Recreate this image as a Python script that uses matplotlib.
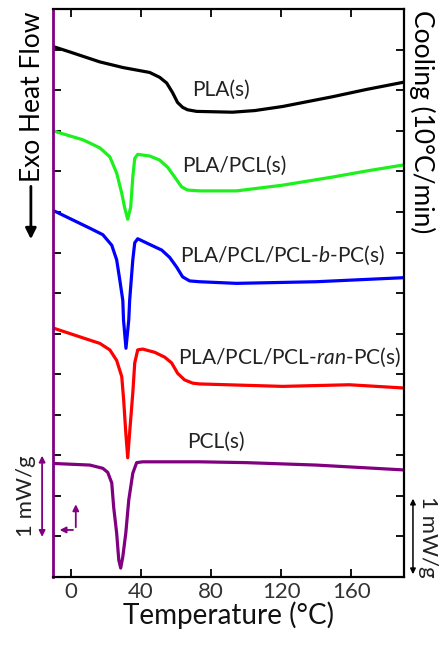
import numpy as np
import matplotlib
matplotlib.use('Agg')
import matplotlib.pyplot as plt

plt.rcParams['font.family'] = ['Lato', 'DejaVu Sans']
plt.rcParams['mathtext.fontset'] = 'custom'
plt.rcParams['mathtext.rm'] = 'Lato'
plt.rcParams['mathtext.it'] = 'Lato:italic'

# кривые ДСК (охлаждение); y в мВт/г со сдвигом
pla_t = [-10, 0, 16.7, 30, 45.1, 50.8, 54.8, 58.2, 61.0, 63.9, 66.7, 71.9, 92.3, 105, 120.8, 135, 149.2, 168.6, 190]
pla_y = [6.54, 6.47, 6.35, 6.28, 6.22, 6.16, 6.09, 5.97, 5.85, 5.79, 5.76, 5.74, 5.73, 5.75, 5.80, 5.86, 5.92, 6.01, 6.10]

plapcl_t = [-10, 7.0, 11.0, 16.7, 22.4, 26.3, 29.2, 30.9, 32.6, 34.3, 35.5, 36.6, 38.3,
            45.1, 50.8, 55.4, 59.4, 63.3, 66.7, 73.6, 94.6, 120.8, 149.2, 170, 190]
plapcl_y = [5.50, 5.39, 5.35, 5.29, 5.18, 4.98, 4.73, 4.55, 4.41, 4.56, 4.93, 5.16, 5.21,
            5.19, 5.14, 5.05, 4.93, 4.81, 4.77, 4.76, 4.76, 4.83, 4.93, 5.01, 5.08]

blk_t = [-10, 11.0, 18.4, 23.5, 26.3, 28.1, 29.8, 30.2, 31.6, 33.2, 33.7, 35.5, 36.6, 38.3,
         45.1, 52.0, 56.5, 60.5, 63.9, 67.9, 73.6, 94.6, 140, 190]
blk_y = [4.52, 4.30, 4.22, 4.09, 3.91, 3.66, 3.41, 3.17, 2.82, 3.17, 3.41, 3.91, 4.12, 4.17,
         4.10, 4.03, 3.94, 3.82, 3.70, 3.65, 3.64, 3.62, 3.64, 3.69]

ran_t = [-10, 11.0, 16.7, 22.4, 26.3, 29.2, 30.3, 31.5, 32.6, 33.7, 35.5, 36.6, 38.3, 41.1,
         48.0, 53.7, 57.6, 61.1, 65.0, 69.6, 73.6, 120.8, 158.9, 190]
ran_y = [3.07, 2.92, 2.88, 2.80, 2.67, 2.47, 2.18, 1.78, 1.47, 1.78, 2.27, 2.64, 2.80, 2.81,
         2.77, 2.71, 2.64, 2.51, 2.43, 2.39, 2.38, 2.35, 2.37, 2.33]

pcl_t = [-10, 11.0, 18.4, 21.2, 23.5, 24.6, 26.3, 27.5, 28.6, 29.8, 31.5, 33.2, 35.5, 37.7,
         41.1, 73.6, 100, 140, 190]
pcl_y = [1.40, 1.38, 1.34, 1.29, 1.16, 0.86, 0.54, 0.21, 0.11, 0.25, 0.54, 0.95, 1.28, 1.41,
         1.42, 1.42, 1.41, 1.38, 1.32]

labels = ['PLA(s)', 'PLA/PCL(s)', r'PLA/PCL/PCL-$\mathit{b}$-PC(s)',
          r'PLA/PCL/PCL-$\mathit{ran}$-PC(s)', 'PCL(s)']
label_pos = [(69.6, 6.0), (63.9, 5.07), (62.2, 3.97), (61.1, 2.71), (66.7, 1.66)]
colors = ['black', '#1ef01e', '#0000ff', '#ff0000', '#800080']
xticks = [0, 40, 80, 120, 160]

purple = '#800080'

fig = plt.figure(figsize=(4.43, 6.46), dpi=100)
ax = fig.add_axes([0.1196, 0.1068, 0.792, 0.879])

curves = [(pla_t, pla_y), (plapcl_t, plapcl_y), (blk_t, blk_y), (ran_t, ran_y), (pcl_t, pcl_y)]
for (t, y), c in zip(curves, colors):
    ax.plot(t, y, color=c, lw=2.3, solid_joinstyle='round', solid_capstyle='round')

for lab, (x, y) in zip(labels, label_pos):
    ax.text(x, y, lab, fontsize=15, ha='left', va='center', color='#222222')

ax.set_xlim(-10, 190)
ax.set_ylim(0, 7)
ax.set_xticks(xticks)
ax.set_yticks(np.arange(0, 7.01, 0.5))
ax.set_yticklabels([])
ax.tick_params(direction='in', top=True, right=True, length=6, width=1.3,
               labelsize=16, labelcolor='#333333')
for tk in ax.yaxis.get_major_ticks():
    tk.tick1line.set_color(purple)

for s in ['top', 'right', 'bottom']:
    ax.spines[s].set_linewidth(1.6)
ax.spines['left'].set_color(purple)
ax.spines['left'].set_linewidth(2.0)

ax.set_xlabel('Temperature (°C)', fontsize=20, labelpad=0, color='#111111')

# подписи слева и справа
yt = ax.get_yaxis_transform()
ax.text(-0.057, 5.92, 'Exo Heat Flow', transform=yt, rotation=90, fontsize=19,
        ha='center', va='center', clip_on=False)
ax.annotate('', xy=(-0.063, 4.13), xytext=(-0.063, 4.85), xycoords=yt, textcoords=yt,
            arrowprops=dict(arrowstyle='-|>', color='black', lw=2, mutation_scale=16),
            annotation_clip=False)
ax.text(1.051, 5.61, 'Cooling (10°C/min)', transform=yt, rotation=270, fontsize=19,
        ha='center', va='center', clip_on=False)

# масштабные стрелки 1 mW/g
ax.annotate('', xy=(-0.031, 1.53), xytext=(-0.031, 0.46), xycoords=yt, textcoords=yt,
            arrowprops=dict(arrowstyle='<|-|>', color=purple, lw=1.3, mutation_scale=9),
            annotation_clip=False)
ax.text(-0.076, 1.0, '1 mW/g', transform=yt, rotation=90, fontsize=16,
        ha='center', va='center', color='#222222', clip_on=False)
ax.annotate('', xy=(1.026, 1.0), xytext=(1.026, 0.0), xycoords=yt, textcoords=yt,
            arrowprops=dict(arrowstyle='<|-|>', color='black', lw=1.1, mutation_scale=8),
            annotation_clip=False)
ax.text(1.07, 0.5, '1 mW/g', transform=yt, rotation=270, fontsize=16,
        ha='center', va='center', color='#222222', clip_on=False)

# маленькие оси-стрелки внизу слева
ax.annotate('', xy=(3.0, 0.93), xytext=(3.0, 0.58),
            arrowprops=dict(arrowstyle='-|>', color=purple, lw=1.3, mutation_scale=9))
ax.annotate('', xy=(-7.8, 0.58), xytext=(3.0, 0.58),
            arrowprops=dict(arrowstyle='-|>', color=purple, lw=1.3, mutation_scale=9))

fig.savefig('out.png', dpi=100)
